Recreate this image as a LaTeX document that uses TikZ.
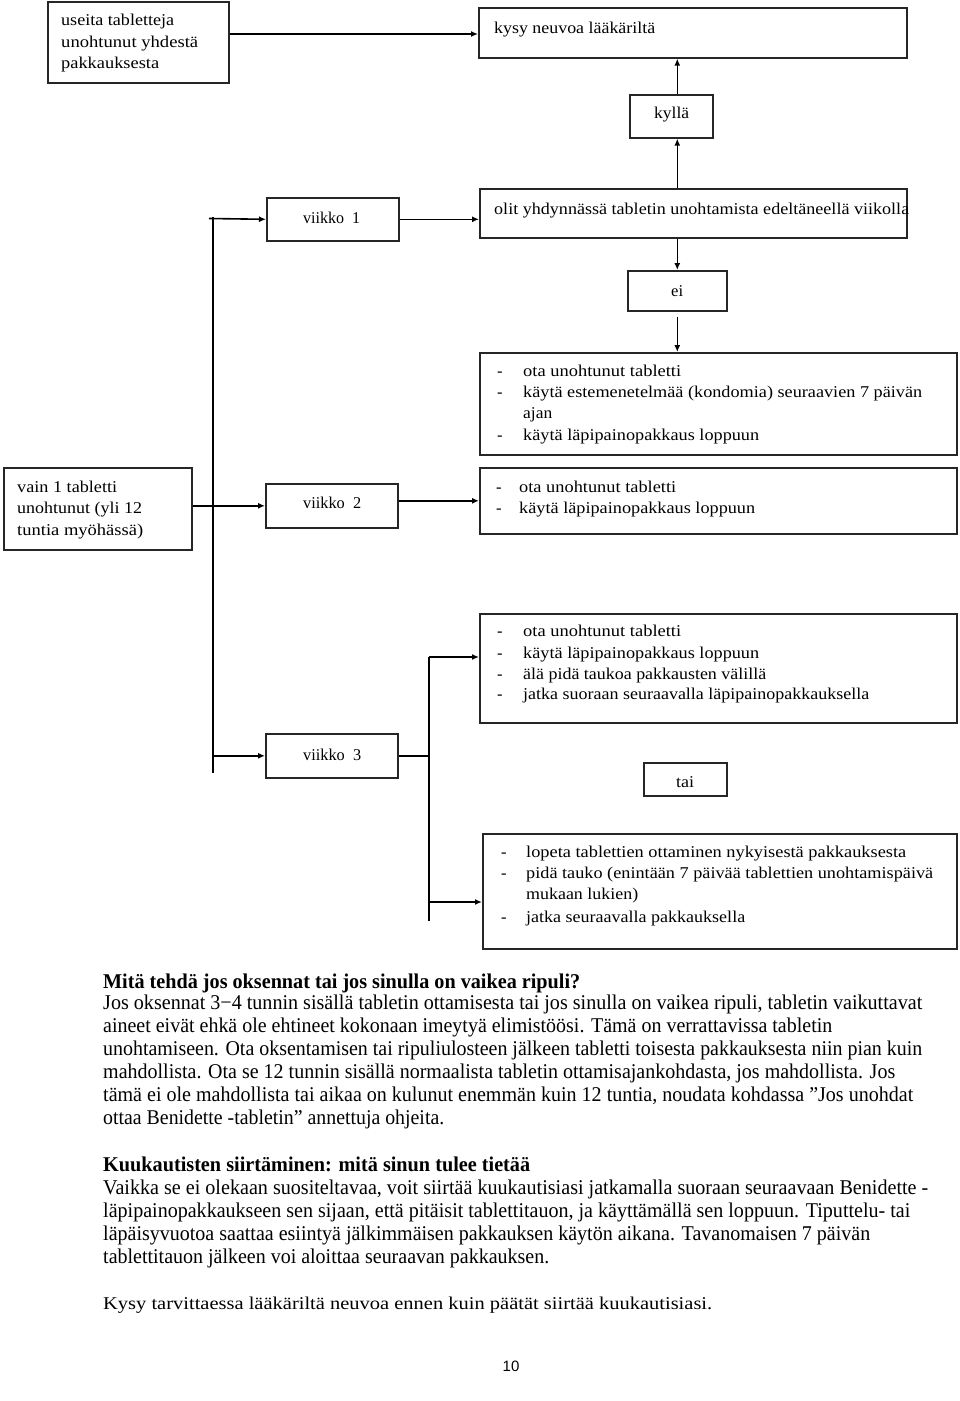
\documentclass[tikz,border=0pt]{standalone}
\usepackage{fontspec}
\setmainfont{Liberation Serif}
\newfontfamily\numfont{Liberation Sans}
\usetikzlibrary{arrows.meta}
\newcommand{\fl}[2]{\resizebox{#1pt}{\height}{#2}}
\begin{document}
\begin{tikzpicture}[x=1pt,y=-1pt,
  box/.style={draw=black!85, line width=1.6pt, inner sep=0pt, anchor=north west},
  arr/.style={line width=1.6pt, -{Latex[length=7pt,width=6pt]}},
  ln/.style={line width=1.5pt},
  dt/.style={anchor=base west, inner sep=0pt, font=\fontsize{16.5}{19}\selectfont},
  pt/.style={anchor=base west, inner sep=0pt, font=\fontsize{21}{23}\selectfont},
  hd/.style={anchor=base west, inner sep=0pt, font=\fontsize{21}{23}\selectfont\bfseries}]
\useasboundingbox[fill=white] (0,0) rectangle (960,1401);

% boxes
\node[box, minimum width=181pt, minimum height=81pt] (useita) at (47,1) {};
\node[box, minimum width=428pt, minimum height=50pt] (kysy) at (478,7) {};
\node[box, minimum width=83pt, minimum height=43pt] (kylla) at (629,94) {};
\node[box, minimum width=132pt, minimum height=43pt] (viikko1) at (266,197) {};
\node[box, minimum width=427pt, minimum height=49pt] (olit) at (479,188) {};
\node[box, minimum width=99pt, minimum height=40pt] (ei) at (627,270) {};
\node[box, minimum width=477pt, minimum height=102pt] (b3) at (479,352) {};
\node[box, minimum width=188pt, minimum height=82pt] (vain) at (3,467) {};
\node[box, minimum width=132pt, minimum height=44pt] (viikko2) at (265,483) {};
\node[box, minimum width=477pt, minimum height=66pt] (b4) at (479,467) {};
\node[box, minimum width=132pt, minimum height=44pt] (viikko3) at (265,733) {};
\node[box, minimum width=477pt, minimum height=109pt] (bA) at (479,613) {};
\node[box, minimum width=83pt, minimum height=33pt] (tai) at (643,762) {};
\node[box, minimum width=474pt, minimum height=115pt] (bB) at (482,833) {};

% box texts
\node[dt] (t-us1) at (61,25) {\fl{113}{useita tabletteja}};
\node[dt] (t-us2) at (61,47) {\fl{137}{unohtunut yhdestä}};
\node[dt] (t-us3) at (61,68) {\fl{98}{pakkauksesta}};
\node[dt] (t-kysy) at (494,33) {\fl{161}{kysy neuvoa lääkäriltä}};
\node[dt] (t-kylla) at (654,118) {\fl{35}{kyllä}};
\node[dt] (t-v1) at (303,223) {\fl{57}{viikko\hspace{0.5em}1}};
\node[dt] (t-olit) at (494,214) {\fl{415}{olit yhdynnässä tabletin unohtamista edeltäneellä viikolla}};
\node[dt] (t-ei) at (671,296) {\fl{12}{ei}};

\node[dt] (d3a) at (497,376) {-};
\node[dt] (d3b) at (497,397) {-};
\node[dt] (d3c) at (497,440) {-};
\node[dt] (t3a) at (523,376) {\fl{158}{ota unohtunut tabletti}};
\node[dt] (t3b) at (523,397) {\fl{399}{käytä estemenetelmää (kondomia) seuraavien 7 päivän}};
\node[dt] (t3c) at (523,418) {\fl{29}{ajan}};
\node[dt] (t3d) at (523,440) {\fl{236}{käytä läpipainopakkaus loppuun}};

\node[dt] (t-va1) at (17,492) {\fl{100}{vain 1 tabletti}};
\node[dt] (t-va2) at (17,513) {\fl{125}{unohtunut (yli 12}};
\node[dt] (t-va3) at (17,535) {\fl{126}{tuntia myöhässä)}};
\node[dt] (t-v2) at (303,508) {\fl{58}{viikko\hspace{0.5em}2}};

\node[dt] (d4a) at (496,492) {-};
\node[dt] (d4b) at (496,513) {-};
\node[dt] (t4a) at (519,492) {\fl{157}{ota unohtunut tabletti}};
\node[dt] (t4b) at (519,513) {\fl{236}{käytä läpipainopakkaus loppuun}};

\node[dt] (t-v3) at (303,760) {\fl{58}{viikko\hspace{0.5em}3}};

\node[dt] (dAa) at (497,636) {-};
\node[dt] (dAb) at (497,658) {-};
\node[dt] (dAc) at (497,679) {-};
\node[dt] (dAd) at (497,699) {-};
\node[dt] (tAa) at (523,636) {\fl{158}{ota unohtunut tabletti}};
\node[dt] (tAb) at (523,658) {\fl{236}{käytä läpipainopakkaus loppuun}};
\node[dt] (tAc) at (523,679) {\fl{243}{älä pidä taukoa pakkausten välillä}};
\node[dt] (tAd) at (523,699) {\fl{346}{jatka suoraan seuraavalla läpipainopakkauksella}};

\node[dt] (t-tai) at (676,787) {\fl{18}{tai}};

\node[dt] (dBa) at (501,857) {-};
\node[dt] (dBb) at (501,878) {-};
\node[dt] (dBd) at (501,922) {-};
\node[dt] (tBa) at (526,857) {\fl{380}{lopeta tablettien ottaminen nykyisestä pakkauksesta}};
\node[dt] (tBb) at (526,878) {\fl{407}{pidä tauko (enintään 7 päivää tablettien unohtamispäivä}};
\node[dt] (tBc) at (526,899) {\fl{112}{mukaan lukien)}};
\node[dt] (tBd) at (526,922) {\fl{219}{jatka seuraavalla pakkauksella}};

% connectors
\coordinate (y34) at (0,34);
\draw[arr] (useita.east |- y34) -- (kysy.west |- y34);
\draw[arr] (olit.north -| ei.north) -- (kylla.south -| ei.north);
\draw[arr] (kylla.north -| ei.north) -- (kysy.south -| ei.north);
\draw[arr] (olit.south -| ei.north) -- (ei.north);
\draw[arr, shorten <=5pt] (ei.south) -- (b3.north -| ei.south);

\coordinate (t1) at (213,217);
\coordinate (t2) at (213,773);
\coordinate (tick) at (209,218.5);
\draw[ln] (t1) -- (t2);
\draw[arr] (tick) -- (viikko1.west);
\draw[arr] (viikko1.east) -- (olit.west |- viikko1.east);
\draw[arr] (vain.east |- viikko2.west) -- (viikko2.west);
\draw[arr] (viikko2.east |- b4.west) -- (b4.west);
\draw[arr] (t2 |- viikko3.west) -- (viikko3.west);

\coordinate (bt) at (429,657);
\coordinate (bb) at (429,921);
\coordinate (bm) at (429,902);
\draw[ln] (viikko3.east) -- (bt |- viikko3.east);
\draw[ln] (bt) -- (bb);
\draw[arr] (bt) -- (bA.west |- bt);
\draw[arr] (bm) -- (bB.west |- bm);

% paragraphs
\node[hd] (h1) at (103,988) {\fl{477}{Mitä tehdä jos oksennat tai jos sinulla on vaikea ripuli?}};
\node[pt] (p1) at (103,1009) {\fl{819}{Jos oksennat 3−4 tunnin sisällä tabletin ottamisesta tai jos sinulla on vaikea ripuli, tabletin vaikuttavat}};
\node[pt] (p2) at (103,1032) {\fl{729}{aineet eivät ehkä ole ehtineet kokonaan imeytyä elimistöösi. Tämä on verrattavissa tabletin}};
\node[pt] (p3) at (103,1055) {\fl{819}{unohtamiseen. Ota oksentamisen tai ripuliulosteen jälkeen tabletti toisesta pakkauksesta niin pian kuin}};
\node[pt] (p4) at (103,1078) {\fl{792}{mahdollista. Ota se 12 tunnin sisällä normaalista tabletin ottamisajankohdasta, jos mahdollista. Jos}};
\node[pt] (p5) at (103,1101) {\fl{810}{tämä ei ole mahdollista tai aikaa on kulunut enemmän kuin 12 tuntia, noudata kohdassa ”Jos unohdat}};
\node[pt] (p6) at (103,1124) {\fl{341}{ottaa Benidette -tabletin” annettuja ohjeita.}};

\node[hd] (h2) at (103,1171) {\fl{427}{Kuukautisten siirtäminen: mitä sinun tulee tietää}};
\node[pt] (q1) at (103,1194) {\fl{825}{Vaikka se ei olekaan suositeltavaa, voit siirtää kuukautisiasi jatkamalla suoraan seuraavaan Benidette -}};
\node[pt] (q2) at (103,1217) {\fl{807}{läpipainopakkaukseen sen sijaan, että pitäisit tablettitauon, ja käyttämällä sen loppuun. Tiputtelu- tai}};
\node[pt] (q3) at (103,1240) {\fl{767}{läpäisyvuotoa saattaa esiintyä jälkimmäisen pakkauksen käytön aikana. Tavanomaisen 7 päivän}};
\node[pt] (q4) at (103,1263) {\fl{446}{tablettitauon jälkeen voi aloittaa seuraavan pakkauksen.}};

\node[pt, font=\fontsize{18}{20}\selectfont] (k1) at (103,1309) {\fl{609}{Kysy tarvittaessa lääkäriltä neuvoa ennen kuin päätät siirtää kuukautisiasi.}};

\node[anchor=base, inner sep=0pt, font=\numfont\fontsize{15}{17}\selectfont] (pg) at (511,1371) {10};
\end{tikzpicture}
\end{document}
